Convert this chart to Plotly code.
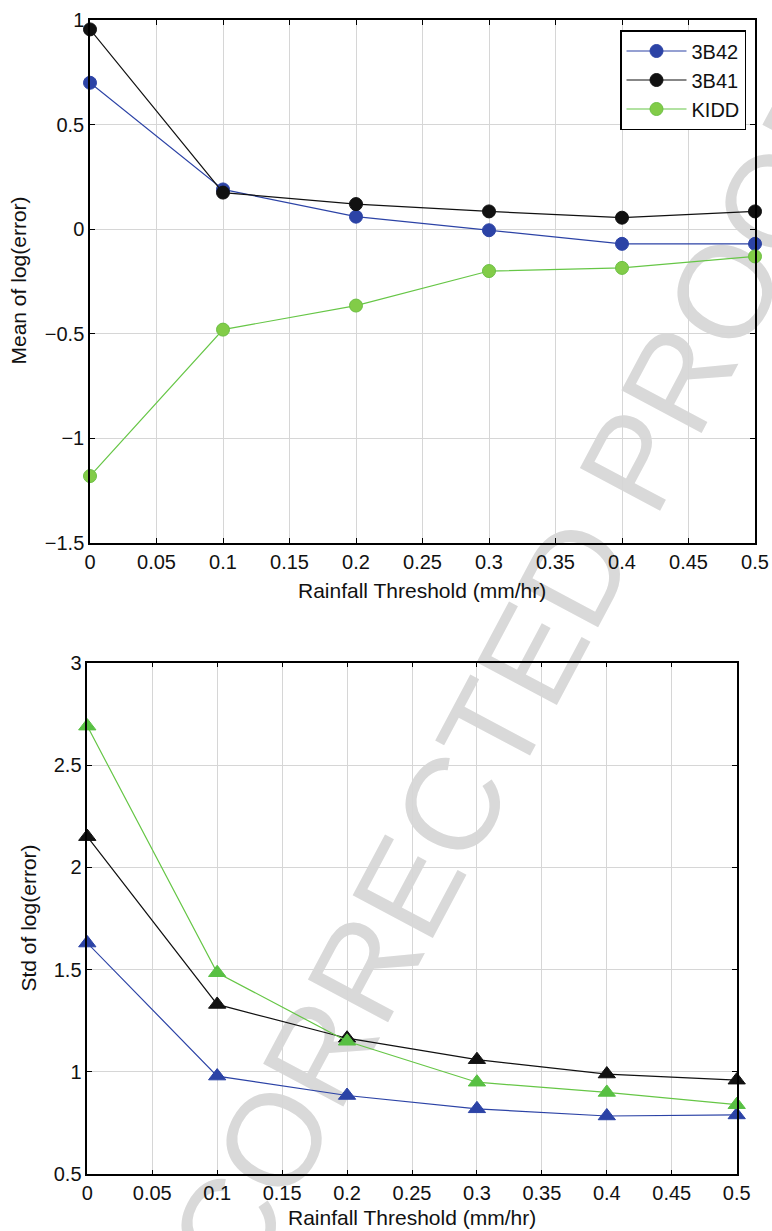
import plotly.graph_objects as go

# ---------------- data ----------------
thresholds = [0, 0.1, 0.2, 0.3, 0.4, 0.5]

mean_3b42 = [0.70, 0.19, 0.06, -0.005, -0.07, -0.07]
mean_3b41 = [0.955, 0.175, 0.12, 0.085, 0.055, 0.085]
mean_kidd = [-1.18, -0.48, -0.365, -0.20, -0.185, -0.13]

std_3b42 = [1.63, 0.98, 0.885, 0.82, 0.785, 0.79]
std_3b41 = [2.15, 1.33, 1.165, 1.06, 0.99, 0.96]
std_kidd = [2.69, 1.485, 1.15, 0.95, 0.90, 0.84]

series_names = ["3B42", "3B41", "KIDD"]

x_ticks = [0, 0.05, 0.1, 0.15, 0.2, 0.25, 0.3, 0.35, 0.4, 0.45, 0.5]
x_ticklabels = ["0", "0.05", "0.1", "0.15", "0.2", "0.25", "0.3", "0.35", "0.4", "0.45", "0.5"]
y1_ticks = [-1.5, -1, -0.5, 0, 0.5, 1]
y1_ticklabels = ["\u22121.5", "\u22121", "\u22120.5", "0", "0.5", "1"]
y2_ticks = [0.5, 1, 1.5, 2, 2.5, 3]
y2_ticklabels = ["0.5", "1", "1.5", "2", "2.5", "3"]

x_title = "Rainfall Threshold (mm/hr)"
y1_title = "Mean of log(error)"
y2_title = "Std of log(error)"
watermark = "UNCORRECTED PROOF"

# ---------------- styling ----------------
W, H = 772, 1231
FONT = "Liberation Sans, Arial, Helvetica, sans-serif"
BLUE = "#2c43a6"
BLACK = "#111111"
GREEN_LINE = "#66c646"
GREEN_FILL = "#82cc48"
GREEN_EDGE = "#6cc044"
GREEN_TRI = "#58c043"

fig = go.Figure()

top_styles = [
    dict(line=dict(color=BLUE, width=1.2), marker=dict(color=BLUE, line=dict(color=BLUE, width=1))),
    dict(line=dict(color=BLACK, width=1.2), marker=dict(color=BLACK, line=dict(color=BLACK, width=1))),
    dict(line=dict(color=GREEN_LINE, width=1.2), marker=dict(color=GREEN_FILL, line=dict(color=GREEN_EDGE, width=1))),
]
for name, vals, st in zip(series_names, [mean_3b42, mean_3b41, mean_kidd], top_styles):
    fig.add_trace(go.Scatter(
        x=thresholds, y=vals, name=name, mode="lines+markers",
        line=st["line"], marker=dict(symbol="circle", size=13, **st["marker"]),
        xaxis="x", yaxis="y", cliponaxis=False, showlegend=True))

bot_colors = [(BLUE, BLUE), (BLACK, BLACK), (GREEN_LINE, GREEN_TRI)]
for name, vals, (lc, mc) in zip(series_names, [std_3b42, std_3b41, std_kidd], bot_colors):
    fig.add_trace(go.Scatter(
        x=thresholds, y=vals, name=name, mode="lines+markers",
        line=dict(color=lc, width=1.2),
        marker=dict(symbol="triangle-up", size=15, color=mc, line=dict(color=mc, width=1)),
        xaxis="x2", yaxis="y2", cliponaxis=False, showlegend=False))

axis_common = dict(
    showline=True, linecolor="black", linewidth=1.5, mirror="ticks",
    ticks="inside", ticklen=5, tickwidth=1, tickcolor="black",
    showgrid=True, gridcolor="#d6d6d6", gridwidth=1, zeroline=False,
    automargin=False,
    tickfont=dict(family=FONT, size=20, color="#111111"),
)

fig.update_layout(
    width=W, height=H,
    margin=dict(l=0, r=0, t=0, b=0, pad=0, autoexpand=False),
    paper_bgcolor="white", plot_bgcolor="rgba(0,0,0,0)",
    font=dict(family=FONT, size=20, color="#111111"),
    xaxis=dict(domain=[90 / W, 755 / W], range=[0, 0.5], tickvals=x_ticks, ticktext=x_ticklabels,
               anchor="y", **axis_common),
    yaxis=dict(domain=[1 - 543 / H, 1 - 20 / H], range=[-1.5, 1], tickvals=y1_ticks, ticktext=y1_ticklabels,
               anchor="x", **axis_common),
    xaxis2=dict(domain=[87.3 / W, 736.7 / W], range=[0, 0.5], tickvals=x_ticks, ticktext=x_ticklabels,
                anchor="y2", **axis_common),
    yaxis2=dict(domain=[1 - 1174.3 / H, 1 - 662.7 / H], range=[0.5, 3], tickvals=y2_ticks, ticktext=y2_ticklabels,
                anchor="x2", **axis_common),
    legend=dict(x=746 / W, xanchor="right", y=1 - 30 / H, yanchor="top",
                bgcolor="white", bordercolor="black", borderwidth=1.5,
                font=dict(family=FONT, size=20, color="#111111"),
                itemwidth=60, tracegroupgap=0),
    showlegend=True,
)

annotations = [
    dict(text=x_title, x=422.5 / W, y=1 - 590 / H, xref="paper", yref="paper",
         xanchor="center", yanchor="middle", showarrow=False, font=dict(family=FONT, size=21, color="#111111")),
    dict(text=x_title, x=412 / W, y=1 - 1217.5 / H, xref="paper", yref="paper",
         xanchor="center", yanchor="middle", showarrow=False, font=dict(family=FONT, size=21, color="#111111")),
    dict(text=y1_title, x=17.5 / W, y=1 - 281 / H, xref="paper", yref="paper", textangle=-90,
         xanchor="center", yanchor="middle", showarrow=False, font=dict(family=FONT, size=21, color="#111111")),
    dict(text=y2_title, x=27.5 / W, y=1 - 918 / H, xref="paper", yref="paper", textangle=-90,
         xanchor="center", yanchor="middle", showarrow=False, font=dict(family=FONT, size=21, color="#111111")),
]
fig.update_layout(annotations=annotations)

# watermark drawn beneath the axes content via a shape label
fig.add_shape(type="rect", xref="paper", yref="paper",
              x0=464 / W, x1=464 / W, y0=1 - 755 / H, y1=1 - 755 / H,
              line=dict(width=0, color="rgba(0,0,0,0)"), layer="below",
              label=dict(text=watermark, textangle=-62, textposition="middle center",
                         font=dict(family=FONT, size=132, color="#d9d9d9")))

fig.write_html("out.html")
